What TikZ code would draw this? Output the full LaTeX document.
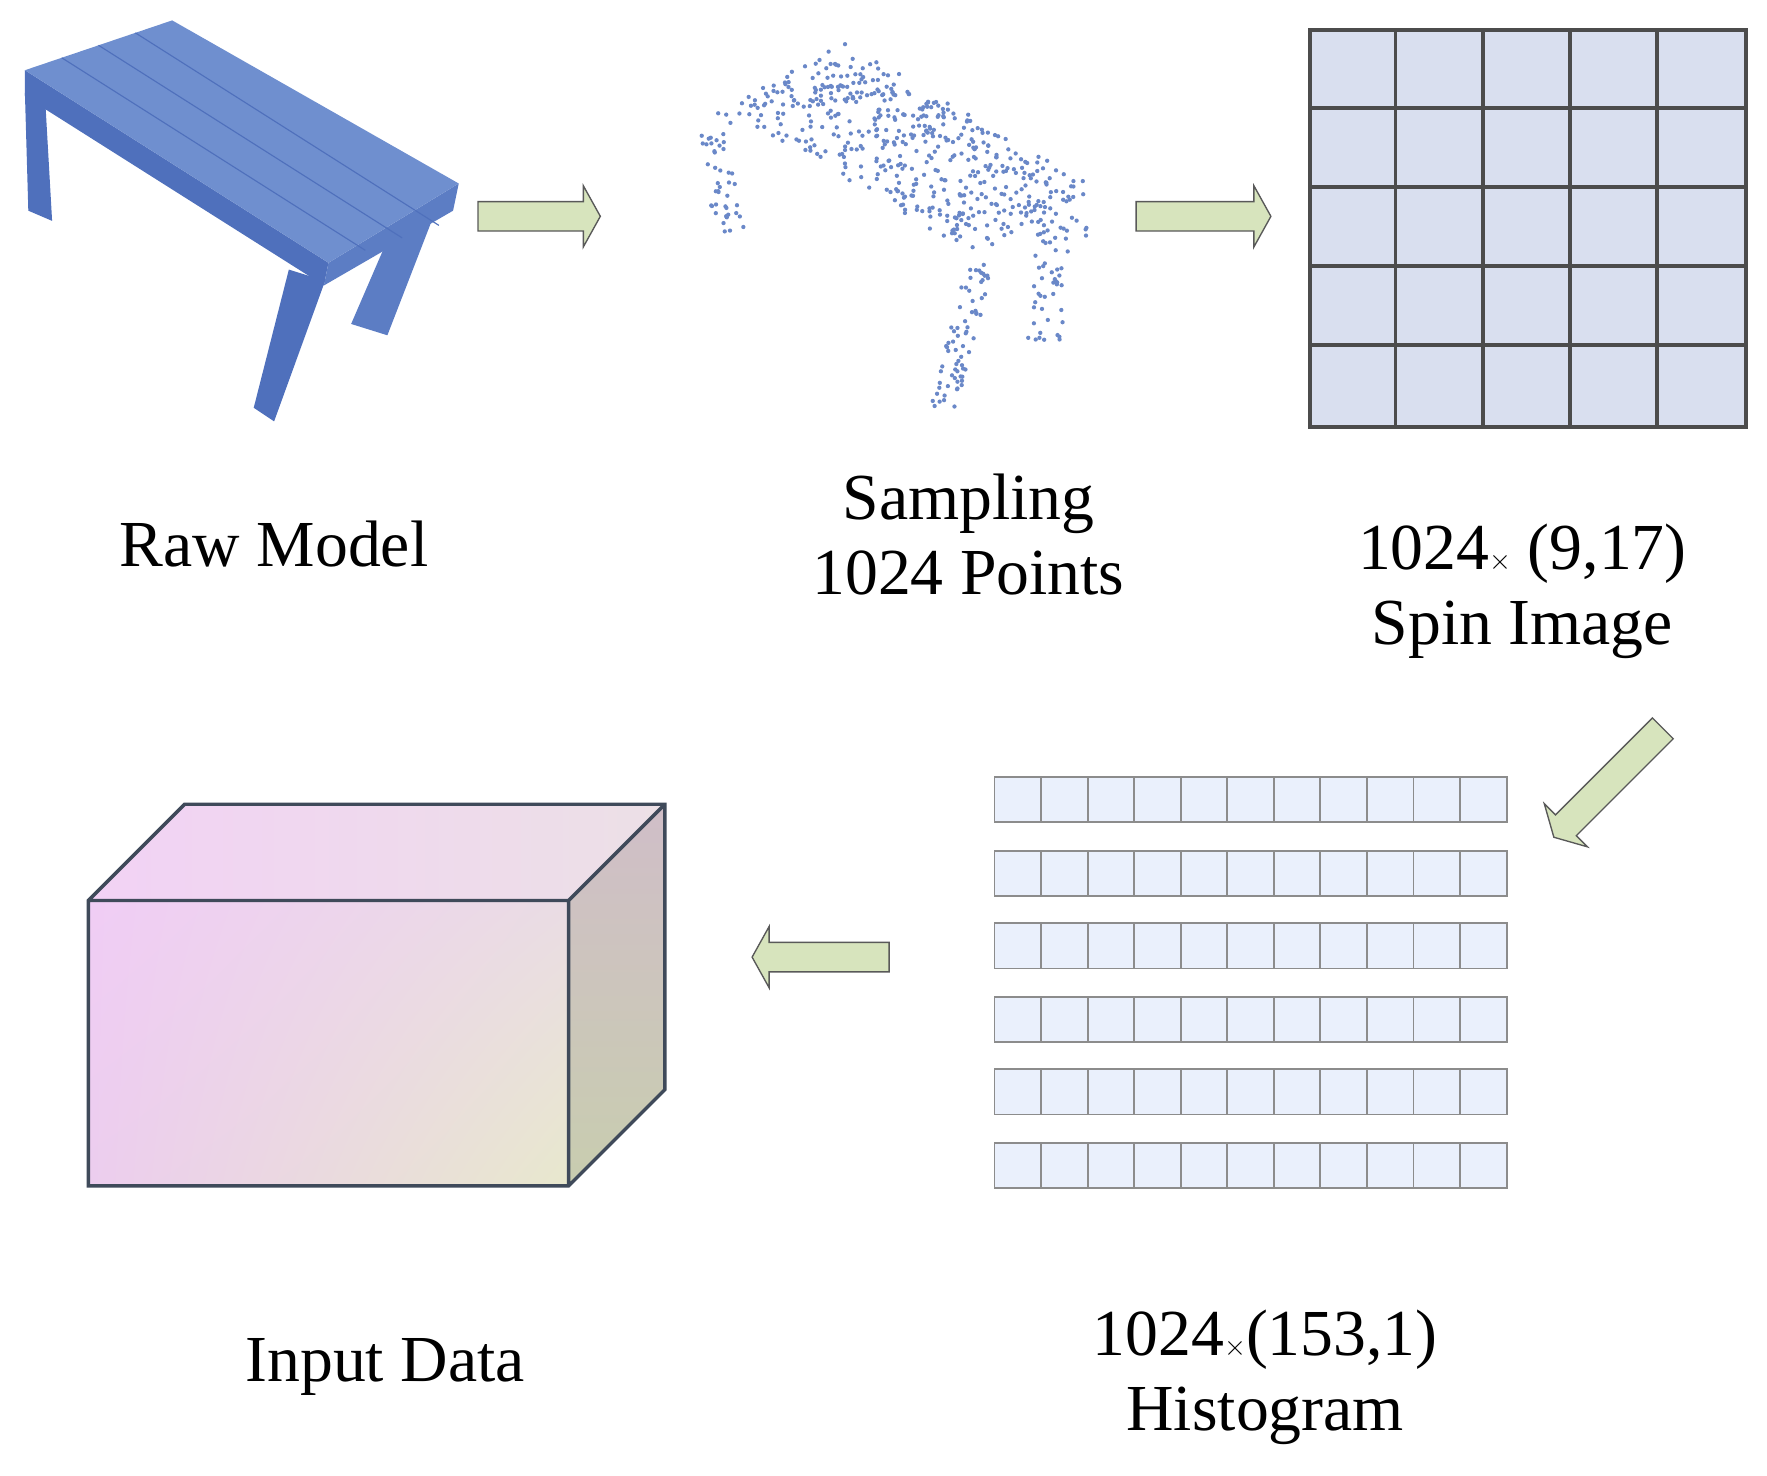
\documentclass[tikz,border=0pt]{standalone}
\usepackage{fontspec}
\setmainfont{Liberation Serif}
\usetikzlibrary{shadings}
\begin{document}
\begin{tikzpicture}[x=1pt,y=-1pt,
  arr/.style={fill=arrowfill,draw=black!65,line width=1.2pt,line join=miter},
  lab/.style={font=\fontsize{58}{66}\selectfont,align=center,inner sep=0pt},
  spin/.style={fill=spinfill,draw=black!70,line width=3.5pt},
  hist/.style={fill=histfill,draw=black!45,line width=1.6pt},
  dot/.style={fill=dotc}]
\definecolor{arrowfill}{HTML}{D7E4BD}
\definecolor{spinfill}{HTML}{D9DFEF}
\definecolor{histfill}{HTML}{EAF0FC}
\definecolor{dotc}{HTML}{6A88C8}
\definecolor{tabA}{HTML}{6F8FCF}
\definecolor{tabB}{HTML}{4F70BC}
\definecolor{tabC}{HTML}{5C7DC4}
\definecolor{edgec}{HTML}{3F4A5A}
\definecolor{fUL}{RGB}{240,205,245}
\definecolor{fUR}{RGB}{234,220,228}
\definecolor{fLL}{RGB}{236,205,238}
\definecolor{fLR}{RGB}{232,232,205}
\definecolor{tL}{RGB}{242,210,245}
\definecolor{tR}{RGB}{236,224,230}
\definecolor{rT}{RGB}{208,190,200}
\definecolor{rB}{RGB}{200,205,175}
\useasboundingbox (0,0) rectangle (1560,1303);
\newcommand\barrow[4]{\begin{scope}[shift={(#1,#2)},rotate=#3]
 \draw[arr] (0,-13)--(#4-15,-13)--(#4-15,-27)--(#4,0)--(#4-15,27)--(#4-15,13)--(0,13)--cycle;
\end{scope}}
% table
\fill[tabB] (22,82)--(40,90)--(46,195)--(25,186)--cycle;
\fill[tabC] (345,205)--(385,185)--(342,296)--(310,286)--cycle;
\fill[tabB] (255,238)--(287,248)--(242,372)--(224,360)--cycle;
\fill[tabB] (22,62)--(290,232)--(286,252)--(22,85)--cycle;
\fill[tabC] (290,232)--(405,162)--(400,186)--(286,252)--cycle;
\fill[tabA] (22,62)--(152,18)--(405,162)--(290,232)--cycle;
\foreach \t in {0.25,0.5,0.75}
  \draw[tabB,line width=1pt] ({22+130*\t},{62-44*\t}) -- ++(268,170);
% point cloud
\pgfmathsetseed{7}
\foreach \i in {1,...,420}{
  \pgfmathsetmacro\u{rnd}\pgfmathsetmacro\v{rnd}
  \fill[dotc] ({640+\u*(745-640)+\v*(860-640)},{95+\u*(35-95)+\v*(225-95)}) circle (1.9);}
\foreach \i in {1,...,90}{
  \pgfmathsetmacro\u{rnd}\pgfmathsetmacro\v{rnd}
  \fill[dotc] ({745+\u*(225)+\v*(-15)},{35+\u*(145)+\v*(40)}) circle (1.9);}
\foreach \i in {1,...,45}{
  \pgfmathsetmacro\u{rnd}\pgfmathsetmacro\v{rnd}
  \fill[dotc] ({615+\u*30+\v*12},{100+\v*105}) circle (1.9);}
\foreach \i in {1,...,70}{
  \pgfmathsetmacro\u{rnd}\pgfmathsetmacro\v{rnd}
  \fill[dotc] ({855+\u*25-\v*35},{228+\v*135}) circle (1.9);}
\foreach \i in {1,...,50}{
  \pgfmathsetmacro\u{rnd}\pgfmathsetmacro\v{rnd}
  \fill[dotc] ({915+\u*30-\v*8},{195+\v*105}) circle (1.9);}
% arrows
\barrow{422}{191}{0}{108}
\barrow{1003}{191}{0}{119}
\barrow{1468}{643}{225}{136}
\barrow{785}{845}{180}{121}
% spin grid
\node[spin,minimum width=385,minimum height=350,inner sep=0,anchor=north west] (spin) at (1155,25) {};
\foreach \k in {1,...,4}{
  \draw[black!70,line width=3.5pt] ({1155+77*\k},25)--({1155+77*\k},375);
  \draw[black!70,line width=3.5pt] (1155,{25+70*\k})--(1540,{25+70*\k});}
% histogram
\foreach \r/\y in {0/686,1/751,2/815,3/880,4/944,5/1009}{
  \foreach \c in {0,...,10}
    \draw[hist] ({878+41.1*\c},\y) rectangle ++(41.1,40);}
% box
\shade[upper left=fUL,upper right=fUR,lower left=fLL,lower right=fLR] (78,795) rectangle (502,1047);
\shade[left color=tL,right color=tR] (78,795)--(163,710)--(587,710)--(502,795)--cycle;
\shade[top color=rT,bottom color=rB] (502,795)--(587,710)--(587,962)--(502,1047)--cycle;
\draw[edgec,line width=3pt,line join=miter] (78,795)--(163,710)--(587,710)--(587,962)--(502,1047)--(78,1047)--cycle (78,795)--(502,795)--(587,710) (502,795)--(502,1047);
% labels
\node[lab] (l1) at (242,480) {Raw Model};
\node[lab] (l2) at (855,472) {Sampling\\1024 Points};
\node[lab] (l3) at (1344,522) {1024$\times$ (9,17)\\Spin Image};
\node[lab] (l4) at (340,1207) {Input Data};
\node[lab] (l5) at (1117,1216) {1024$\times$(153,1)\\Histogram};
\end{tikzpicture}
\end{document}
